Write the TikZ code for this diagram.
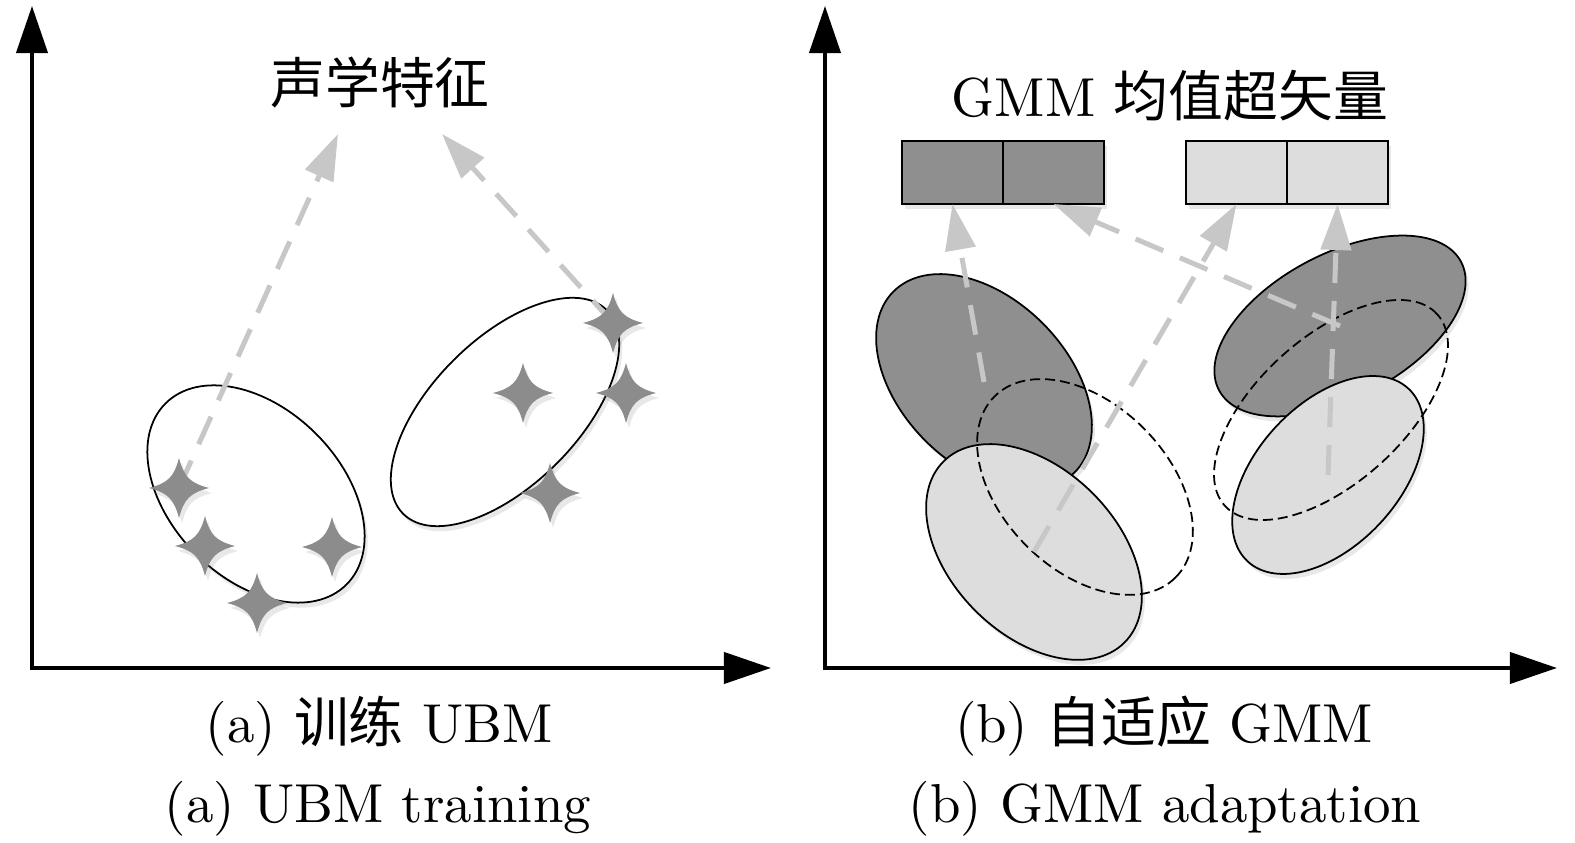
\documentclass[tikz,border=0pt]{standalone}
\usepackage{fontspec}
\usepackage{graphicx}
\newfontfamily\cjk{Noto Sans CJK SC}
\usetikzlibrary{arrows.meta,positioning,shadows}
\newcommand{\bigtext}[1]{\scalebox{1.56}{\fontsize{10}{12}\selectfont #1}}
\definecolor{darkgauss}{gray}{0.56}
\definecolor{lightgauss}{gray}{0.865}
\definecolor{featline}{gray}{0.78}
\definecolor{starfill}{gray}{0.55}

\begin{document}
\begin{tikzpicture}[x=0.01cm,y=0.01cm,
    axis/.style={line width=0.04cm,
      {Triangle[length=0.47cm,width=0.31cm]}-{Triangle[length=0.47cm,width=0.31cm]}},
    feat/.style={featline,line width=0.05cm,dash pattern=on 0.3cm off 0.18cm,
      -{Triangle[length=0.46cm,width=0.3cm]}},
    soft/.style={drop shadow={opacity=0.18,shadow xshift=0.03cm,shadow yshift=-0.05cm}},
    gauss/.style={line width=0.5pt,soft},
    dashgauss/.style={line width=0.5pt,dash pattern=on 0.1cm off 0.05cm},
    cell/.style={draw,line width=0.6pt,minimum width=1.01cm,minimum height=0.63cm,
      inner sep=0pt,outer sep=0pt,soft},
    sparkle/.pic={
      \fill[starfill,soft] (0,30) .. controls (5,11) and (11,5) .. (30,0)
        .. controls (11,-5) and (5,-11) .. (0,-30)
        .. controls (-5,-11) and (-11,-5) .. (-30,0)
        .. controls (-11,5) and (-5,11) .. cycle;
    }]
  \useasboundingbox (0,0) rectangle (1575,843);

  % (a) UBM training
  \coordinate (ya) at (32,837);
  \coordinate (xa) at (771,175);
  \draw[axis] (ya) |- (xa);
  \node[anchor=base] (ta) at (380,739) {\bigtext{\cjk 声学特征}};
  \coordinate (f1) at (338,709);
  \coordinate (f2) at (442,709);
  \coordinate (ea1) at (256,349);
  \coordinate (ea2) at (505,431);
  \draw[gauss,fill=white] (ea1) circle [x radius=128,y radius=85,rotate=-45];
  \draw[gauss,fill=white] (ea2) circle [x radius=144,y radius=73,rotate=45];
  \foreach \x/\y [count=\i] in {179/355,205/297,332/296,257/240,613/520,523/450,626/450,550/350}
    \coordinate (s\i) at (\x,\y);
  \draw[feat] (s1) -- (f1);
  \draw[feat] (s5) -- (f2);
  \foreach \i in {1,...,8}
    \pic at (s\i) {sparkle};
  \node[anchor=base] (ca1) at (379,100) {\bigtext{(a) {\cjk 训练} UBM}};
  \node[anchor=base] (ca2) at (378,20) {\bigtext{(a) UBM training}};

  % (b) GMM adaptation
  \coordinate (yb) at (825,837);
  \coordinate (xb) at (1557,175);
  \draw[axis] (yb) |- (xb);
  \node[anchor=base] (tb) at (1170,726) {\bigtext{GMM {\cjk 均值超矢量}}};
  \node[cell,fill=darkgauss] (dm1) at (952.5,670.5) {};
  \node[cell,fill=darkgauss,right=0pt of dm1] (dm2) {};
  \node[cell,fill=lightgauss] (lm1) at (1236.5,670.5) {};
  \node[cell,fill=lightgauss,right=0pt of lm1] (lm2) {};
  \coordinate (gd1) at (984,461);
  \coordinate (gl1) at (1034,291);
  \coordinate (gx1) at (1085,356);
  \coordinate (gd2) at (1340,517);
  \coordinate (gl2) at (1328,368);
  \coordinate (gx2) at (1331,433);
  \draw[gauss,fill=darkgauss] (gd1) circle [x radius=128,y radius=83,rotate=-45];
  \draw[gauss,fill=lightgauss] (gl1) circle [x radius=128,y radius=83,rotate=-45];
  \draw[dashgauss] (gx1) circle [x radius=128,y radius=83,rotate=-45];
  \draw[gauss,fill=darkgauss] (gd2) circle [x radius=137,y radius=72,rotate=28];
  \draw[gauss,fill=lightgauss] (gl2) circle [x radius=118,y radius=71,rotate=47];
  \draw[dashgauss] (gx2) circle [x radius=143,y radius=73,rotate=42];
  \draw[feat] (gd1) -- (dm1.south);
  \draw[feat] (gl1) -- (lm1.south);
  \draw[feat] (gd2) -- (dm2.south);
  \draw[feat] (gl2) -- (lm2.south);
  \node[anchor=base] (cb1) at (1164,100) {\bigtext{(b) {\cjk 自适应} GMM}};
  \node[anchor=base] (cb2) at (1165,20) {\bigtext{(b) GMM adaptation}};
\end{tikzpicture}
\end{document}
